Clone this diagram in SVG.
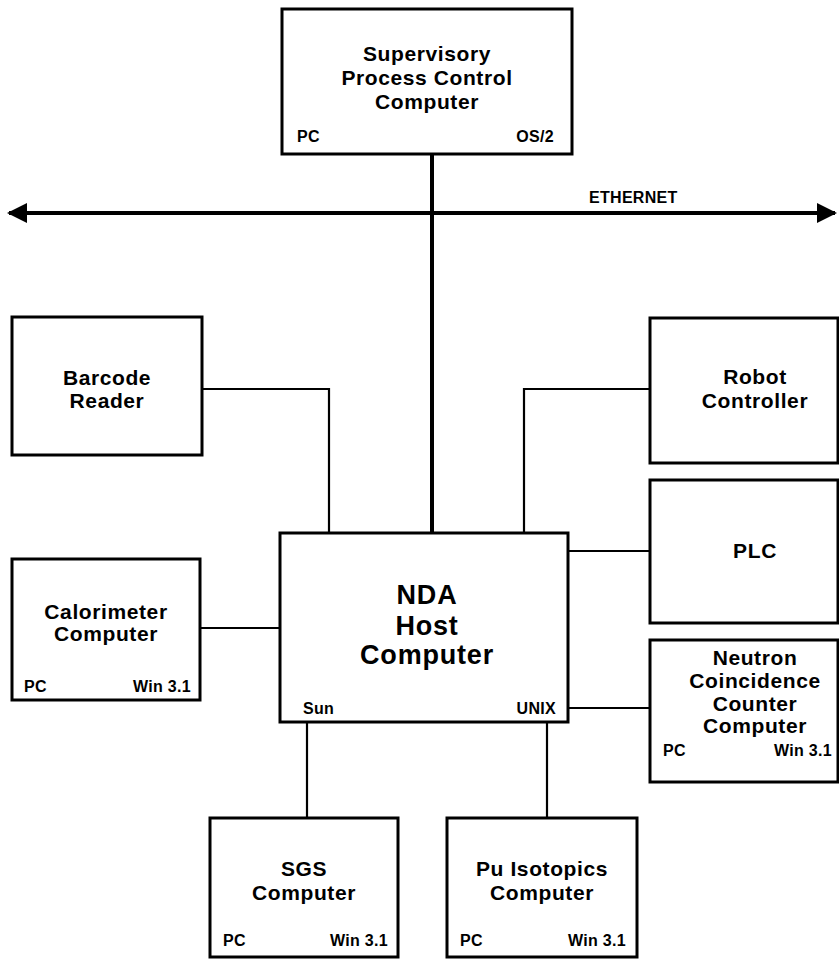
<svg xmlns="http://www.w3.org/2000/svg" width="839" height="960" viewBox="0 0 839 960">
<style>
.box{fill:#fff;stroke:#000;stroke-width:3}
.t{font-family:"Liberation Sans",Arial,sans-serif;font-weight:bold;font-size:21px;letter-spacing:0.6px;text-anchor:middle;fill:#000}
.big{font-size:27px;letter-spacing:0.8px}
.s{font-family:"Liberation Sans",Arial,sans-serif;font-weight:bold;font-size:16px;letter-spacing:0.3px;fill:#000}
.e{text-anchor:end}
.c{fill:none;stroke:#000;stroke-width:2.2}
.bus{fill:none;stroke:#000;stroke-width:4}
</style>
<defs>
<marker id="ah" viewBox="0 0 10 10" refX="9" refY="5" markerWidth="8" markerHeight="5" markerUnits="strokeWidth" orient="auto-start-reverse">
<path d="M0,0 L10,5 L0,10 Z" fill="#000"/>
</marker>
</defs>
<g id="connectors">
<line class="bus" x1="9" y1="213" x2="835" y2="213" marker-start="url(#ah)" marker-end="url(#ah)"/>
<line class="bus" x1="432" y1="154" x2="432" y2="533"/>
<polyline class="c" points="202,389 329,389 329,533"/>
<polyline class="c" points="650,389 524,389 524,533"/>
<line class="c" x1="568" y1="551" x2="650" y2="551"/>
<line class="c" x1="200" y1="628" x2="280" y2="628"/>
<line class="c" x1="568" y1="708" x2="650" y2="708"/>
<line class="c" x1="307" y1="722" x2="307" y2="818"/>
<line class="c" x1="547" y1="722" x2="547" y2="818"/>
</g>
<g id="ethernet-label"><text class="s" x="589" y="203">ETHERNET</text></g>
<g id="supervisory">
<rect class="box" x="282" y="9" width="290" height="145"/>
<text class="t" x="427" y="61">Supervisory</text>
<text class="t" x="427" y="85">Process Control</text>
<text class="t" x="427" y="109">Computer</text>
<text class="s" x="297" y="142">PC</text>
<text class="s e" x="554" y="142">OS/2</text>
</g>
<g id="barcode">
<rect class="box" x="12" y="317" width="190" height="138"/>
<text class="t" x="107" y="385">Barcode</text>
<text class="t" x="107" y="408">Reader</text>
</g>
<g id="robot">
<rect class="box" x="650" y="318" width="188" height="145"/>
<text class="t" x="755" y="384">Robot</text>
<text class="t" x="755" y="408">Controller</text>
</g>
<g id="plc">
<rect class="box" x="650" y="480" width="188" height="143"/>
<text class="t" x="755" y="558">PLC</text>
</g>
<g id="nda">
<rect class="box" x="280" y="533" width="288" height="189"/>
<text class="t big" x="427" y="604">NDA</text>
<text class="t big" x="427" y="635">Host</text>
<text class="t big" x="427" y="664">Computer</text>
<text class="s" x="303" y="714">Sun</text>
<text class="s e" x="556" y="714">UNIX</text>
</g>
<g id="calorimeter">
<rect class="box" x="12" y="559" width="188" height="141"/>
<text class="t" x="106" y="619">Calorimeter</text>
<text class="t" x="106" y="641">Computer</text>
<text class="s" x="24" y="692">PC</text>
<text class="s e" x="191" y="692">Win 3.1</text>
</g>
<g id="neutron">
<rect class="box" x="650" y="640" width="188" height="142"/>
<text class="t" x="755" y="665">Neutron</text>
<text class="t" x="755" y="688">Coincidence</text>
<text class="t" x="755" y="711">Counter</text>
<text class="t" x="755" y="733">Computer</text>
<text class="s" x="663" y="756">PC</text>
<text class="s e" x="832" y="756">Win 3.1</text>
</g>
<g id="sgs">
<rect class="box" x="210" y="818" width="188" height="139"/>
<text class="t" x="304" y="876">SGS</text>
<text class="t" x="304" y="900">Computer</text>
<text class="s" x="223" y="946">PC</text>
<text class="s e" x="388" y="946">Win 3.1</text>
</g>
<g id="pu">
<rect class="box" x="447" y="818" width="190" height="139"/>
<text class="t" x="542" y="876">Pu Isotopics</text>
<text class="t" x="542" y="900">Computer</text>
<text class="s" x="460" y="946">PC</text>
<text class="s e" x="626" y="946">Win 3.1</text>
</g>
</svg>
